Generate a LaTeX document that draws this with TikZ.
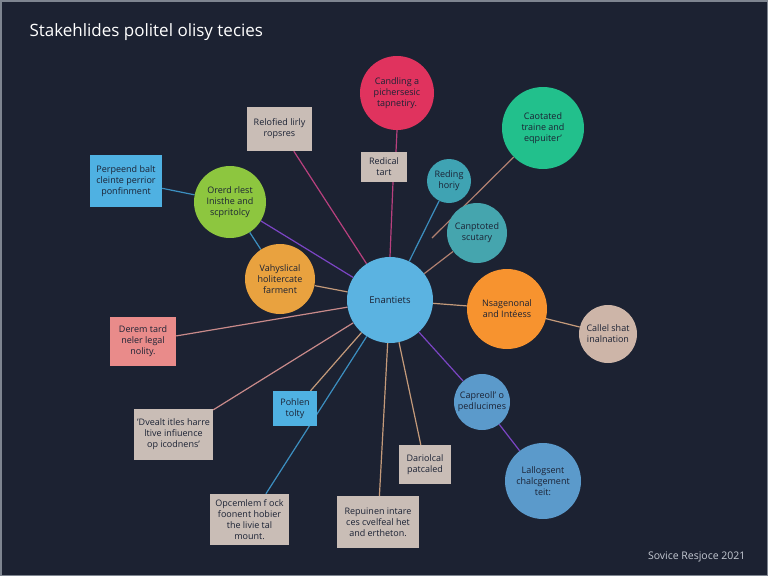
\documentclass[tikz,border=0pt]{standalone}
\usepackage{fontspec}
\setmainfont{Open Sans}
\usetikzlibrary{backgrounds}

\definecolor{bgnavy}{HTML}{1C2232}
\definecolor{framegray}{HTML}{7E8590}
\definecolor{inkdark}{HTML}{1B2234}
\definecolor{hubblue}{HTML}{5BB3E1}
\definecolor{crimson}{HTML}{E0335E}
\definecolor{seagreen}{HTML}{22C08C}
\definecolor{tealsmall}{HTML}{3FA3B3}
\definecolor{tealmid}{HTML}{45A5AE}
\definecolor{orangebr}{HTML}{F7932F}
\definecolor{beigec}{HTML}{CDB5A8}
\definecolor{steelb}{HTML}{5B9ACB}
\definecolor{amber}{HTML}{E9A23F}
\definecolor{limeg}{HTML}{8DC63F}
\definecolor{skyb}{HTML}{4FB1E2}
\definecolor{greybox}{HTML}{C9BDB6}
\definecolor{salmon}{HTML}{E98B8A}
\definecolor{magentaln}{HTML}{B8407E}
\definecolor{violetln}{HTML}{7B45C4}
\definecolor{blueln}{HTML}{3C8FC0}
\definecolor{tanln}{HTML}{C49A7A}
\definecolor{brownln}{HTML}{B08070}
\definecolor{rosyln}{HTML}{C98A8A}
\definecolor{footgray}{HTML}{C5CAD3}

\pgfdeclarelayer{edges}
\pgfsetlayers{edges,main}

\begin{document}
\begin{tikzpicture}[x=1pt, y=-1pt,
  bubble/.style={circle, inner sep=0pt, align=center, text=inkdark, font=\fontsize{9}{11}\selectfont},
  card/.style={rectangle, inner sep=0pt, align=center, text=inkdark, font=\fontsize{9}{11}\selectfont},
  link/.style={line width=1.2pt}]

  \node[anchor=west, text=white, font=\fontsize{17}{20}\selectfont] (title) at (26,32) {Stakehlides politel olisy tecies};
  \node[anchor=east, text=footgray, font=\fontsize{10.5}{12}\selectfont] (footer) at (749,557) {Sovice Resjoce 2021};

  \node[bubble, fill=hubblue, minimum size=86, font=\fontsize{9.5}{11}\selectfont] (hub) at (390,300) {Enantiets};
  \node[bubble, fill=crimson, minimum size=74] (candling) at (397,93) {Candling a\\pichersesic\\tapnetiry.};
  \node[card, fill=greybox, minimum width=46, minimum height=30] (redical) at (384,167) {Redical\\tart};
  \node[bubble, fill=tealsmall, minimum size=44] (reding) at (449,181) {Reding\\horiy};
  \node[bubble, fill=seagreen, minimum size=82] (caotated) at (543,128) {Caotated\\traine and\\eqpuiter'};
  \node[bubble, fill=tealmid, minimum size=60] (canptoted) at (477,233) {Canptoted\\scutary};
  \node[bubble, fill=orangebr, minimum size=80] (nsagenonal) at (507,309) {Nsagenonal\\and Intéess};
  \node[bubble, fill=beigec, minimum size=58] (callel) at (608,334) {Callel shat\\inalnation};
  \node[bubble, fill=steelb, minimum size=56] (capreoll) at (482,402) {Capreoll' o\\pedlucimes};
  \node[bubble, fill=steelb, minimum size=76] (lallogsent) at (543,481) {Lallogsent\\chalcgement\\teit:};
  \node[card, fill=greybox, minimum width=52, minimum height=39] (dariolcal) at (425,464.5) {Dariolcal\\patcaled};
  \node[card, fill=greybox, minimum width=82, minimum height=52] (repuinen) at (378,522) {Repuinen intare\\ces cvelfeal het\\and ertheton.};
  \node[card, fill=greybox, minimum width=79, minimum height=51] (opcemlem) at (249.5,519.5) {Opcemlem f ock\\foonent hobier\\the livie tal\\mount.};
  \node[card, fill=skyb, minimum width=44, minimum height=35] (pohlen) at (295,408.5) {Pohlen\\tolty};
  \node[card, fill=greybox, minimum width=79, minimum height=51] (dvealt) at (173.5,434.5) {'Dvealt itles harre\\ltive infiuence\\op icodnens'};
  \node[card, fill=salmon, minimum width=66, minimum height=49] (derem) at (143,341.5) {Derem tard\\neler legal\\nolity.};
  \node[bubble, fill=amber, minimum size=70] (vahy) at (280,279) {Vahyslical\\holitercate\\farment};
  \node[bubble, fill=limeg, minimum size=72] (orerd) at (230,202) {Orerd rlest\\Inisthe and\\scpritolcy};
  \node[card, fill=skyb, minimum width=72, minimum height=52] (perpeend) at (126,181) {Perpeend balt\\cleinte perrior\\ponfinment};
  \node[card, fill=greybox, minimum width=65, minimum height=44] (relofied) at (279.5,129) {Relofied lirly\\ropsres};
  \coordinate (caotatedend) at (432,238);

  \begin{pgfonlayer}{edges}
    \fill[bgnavy] (0,0) rectangle (768,576);
    \draw[framegray, line width=1.5pt] (0.75,0.75) rectangle (767.25,575.25);

    \draw[link, magentaln] (relofied) -- (hub);
    \draw[link, violetln] (orerd) -- (hub);
    \draw[link, blueln] (perpeend) -- (orerd);
    \draw[link, blueln] (orerd) -- (vahy);
    \draw[link, tanln] (vahy) -- (hub);
    \draw[link, rosyln] (derem) -- (hub);
    \draw[link, magentaln] (candling.south) -- ([xshift=12]redical.north);
    \draw[link, magentaln] ([xshift=9]redical.south) -- (hub.north);
    \draw[link, blueln] (reding) -- (hub);
    \draw[link, brownln] (caotated) -- (caotatedend);
    \draw[link, brownln] (canptoted) -- (hub);
    \draw[link, tanln] (hub) -- (nsagenonal);
    \draw[link, tanln] (nsagenonal) -- (callel);
    \draw[link, violetln] (hub) -- (capreoll);
    \draw[link, violetln] (capreoll) -- (lallogsent);
    \draw[link, tanln] (hub) -- (dariolcal);
    \draw[link, tanln] (hub) -- (repuinen);
    \draw[link, blueln] (hub) -- (opcemlem);
    \draw[link, tanln] (hub) -- (pohlen);
    \draw[link, rosyln] (hub) -- (dvealt);
  \end{pgfonlayer}

\end{tikzpicture}
\end{document}
